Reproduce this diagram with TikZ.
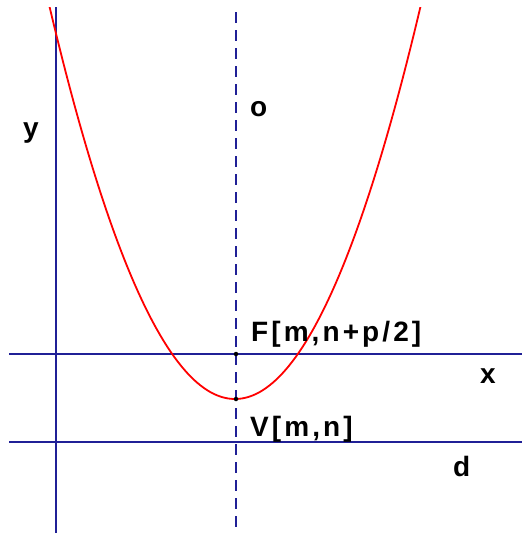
\documentclass[tikz,border=0pt]{standalone}
\usepackage{fontspec}
\setmainfont{Liberation Sans}
\usetikzlibrary{positioning}

\definecolor{axisblue}{RGB}{32,32,150}

\begin{document}
\begin{tikzpicture}[
    x=1pt, y=-1pt,
    axis/.style={draw=axisblue, line width=2pt},
    axisdash/.style={draw=axisblue, line width=1.8pt, dash pattern=on 11pt off 7pt},
    curve/.style={draw=red, line width=1.8pt},
    label/.style={font=\fontsize{28}{31}\selectfont\bfseries\addfontfeatures{LetterSpace=11},
      inner sep=0pt, anchor=base west},
    pt/.style={circle, fill=black, inner sep=0pt, minimum size=4.5pt},
  ]

  \useasboundingbox (0,0) rectangle (522,533);
  \clip (9,7) rectangle (522,533);

  % Axes and directrix
  \coordinate (ytop) at (56,7);
  \coordinate (ybot) at (56,533);
  \coordinate (xl) at (9,354);
  \coordinate (xr) at (522,354);
  \coordinate (dl) at (9,442);
  \coordinate (dr) at (522,442);
  \coordinate (otop) at (236,12);
  \coordinate (obot) at (236,533);

  \draw[axis] (ytop) -- (ybot);
  \draw[axis] (xl) -- (xr);
  \draw[axis] (dl) -- (dr);
  \draw[axisdash] (otop) -- (obot);

  % Parabola
  \draw[curve] plot[domain=40:430, samples=120, smooth]
    ({\x}, {399 - (0.1068*(\x-235))^2});

  % Focus and vertex
  \node[pt] (F) at (236,354) {};
  \node[pt] (V) at (236,399) {};

  % Labels
  \node[label] (ylab) at (23,137) {y};
  \node[label] (olab) at (250,116) {o};
  \node[label] (Flab) at (251,341) {F[m,n+p/2]};
  \node[label] (xlab) at (480,383) {x};
  \node[label] (Vlab) at (250,436) {V[m,n]};
  \node[label] (dlab) at (453,476) {d};

\end{tikzpicture}
\end{document}
